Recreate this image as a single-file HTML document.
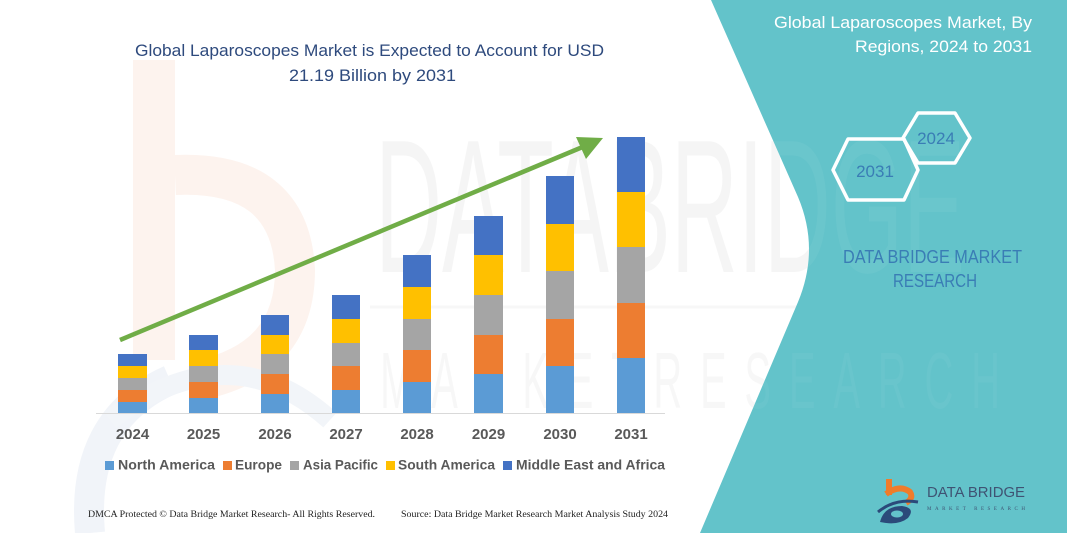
<!DOCTYPE html>
<html><head><meta charset="utf-8"><style>
html,body{margin:0;padding:0;background:#fff;}
svg{display:block;}
</style></head><body>
<svg width="1067" height="533" viewBox="0 0 1067 533" xmlns="http://www.w3.org/2000/svg">
<defs>
<clipPath id="teal"><path d="M711,0 L1067,0 L1067,533 L700,533 L798,302 Q820,249 798,197 Z"/></clipPath>
<clipPath id="white"><path d="M0,0 L711,0 L798,197 Q820,249 798,302 L700,533 L0,533 Z"/></clipPath>
</defs>
<rect width="1067" height="533" fill="#fff"/>
<!-- faint watermark b -->
<g>
<rect x="133" y="60" width="42" height="300" fill="#FDF3EE"/>
<path d="M175,175 Q290,170 295,270 Q295,360 200,380" fill="none" stroke="#FDF3EE" stroke-width="40"/>
<path d="M170,380 Q80,420 90,533" fill="none" stroke="#F1F4F9" stroke-width="30"/>
<path d="M110,420 Q230,330 330,420" fill="none" stroke="#F2F5F9" stroke-width="20"/>
</g>
<g clip-path="url(#white)">
<text x="375" y="272" font-family="Liberation Sans, sans-serif" font-size="190" fill="#000" fill-opacity="0.04" textLength="590" lengthAdjust="spacingAndGlyphs">DATABRIDGE</text>
<line x1="370" y1="307" x2="1000" y2="307" stroke="#000" stroke-opacity="0.03" stroke-width="3"/>
<text transform="scale(0.5,1)" x="760" y="408" font-family="Liberation Sans, sans-serif" font-size="80" fill="#000" fill-opacity="0.03" textLength="1240" lengthAdjust="spacing">MARKETRESEARCH</text>
</g>
<!-- teal panel -->
<path d="M711,0 L1067,0 L1067,533 L700,533 L798,302 Q820,249 798,197 Z" fill="#63C3CA"/>
<g clip-path="url(#teal)">
<text x="375" y="272" font-family="Liberation Sans, sans-serif" font-size="190" fill="#fff" fill-opacity="0.05" textLength="590" lengthAdjust="spacingAndGlyphs">DATABRIDGE</text>
<text transform="scale(0.5,1)" x="760" y="408" font-family="Liberation Sans, sans-serif" font-size="80" fill="#fff" fill-opacity="0.04" textLength="1240" lengthAdjust="spacing">MARKETRESEARCH</text>
</g>

<!-- title -->
<text x="135" y="56" font-family="Liberation Sans, sans-serif" font-size="17" fill="#2E4A7D" textLength="469" lengthAdjust="spacingAndGlyphs">Global Laparoscopes Market is Expected to Account for USD</text>
<text x="289" y="81" font-family="Liberation Sans, sans-serif" font-size="17" fill="#2E4A7D" textLength="167" lengthAdjust="spacingAndGlyphs">21.19 Billion by 2031</text>

<!-- axis -->
<line x1="96" y1="413.5" x2="665" y2="413.5" stroke="#D9D9D9" stroke-width="1"/>

<!-- bars -->
<g>
<rect x="118" y="402" width="29" height="11" fill="#5B9BD5"/>
<rect x="118" y="390" width="29" height="12" fill="#ED7D31"/>
<rect x="118" y="378" width="29" height="12" fill="#A5A5A5"/>
<rect x="118" y="366" width="29" height="12" fill="#FFC000"/>
<rect x="118" y="354" width="29" height="12" fill="#4472C4"/>

<rect x="189" y="398" width="29" height="15" fill="#5B9BD5"/>
<rect x="189" y="382" width="29" height="16" fill="#ED7D31"/>
<rect x="189" y="366" width="29" height="16" fill="#A5A5A5"/>
<rect x="189" y="350" width="29" height="16" fill="#FFC000"/>
<rect x="189" y="335" width="29" height="15" fill="#4472C4"/>

<rect x="261" y="394" width="28" height="19" fill="#5B9BD5"/>
<rect x="261" y="374" width="28" height="20" fill="#ED7D31"/>
<rect x="261" y="354" width="28" height="20" fill="#A5A5A5"/>
<rect x="261" y="335" width="28" height="19" fill="#FFC000"/>
<rect x="261" y="315" width="28" height="20" fill="#4472C4"/>

<rect x="332" y="390" width="28" height="23" fill="#5B9BD5"/>
<rect x="332" y="366" width="28" height="24" fill="#ED7D31"/>
<rect x="332" y="343" width="28" height="23" fill="#A5A5A5"/>
<rect x="332" y="319" width="28" height="24" fill="#FFC000"/>
<rect x="332" y="295" width="28" height="24" fill="#4472C4"/>

<rect x="403" y="382" width="28" height="31" fill="#5B9BD5"/>
<rect x="403" y="350" width="28" height="32" fill="#ED7D31"/>
<rect x="403" y="319" width="28" height="31" fill="#A5A5A5"/>
<rect x="403" y="287" width="28" height="32" fill="#FFC000"/>
<rect x="403" y="255" width="28" height="32" fill="#4472C4"/>

<rect x="474" y="374" width="29" height="39" fill="#5B9BD5"/>
<rect x="474" y="335" width="29" height="39" fill="#ED7D31"/>
<rect x="474" y="295" width="29" height="40" fill="#A5A5A5"/>
<rect x="474" y="255" width="29" height="40" fill="#FFC000"/>
<rect x="474" y="216" width="29" height="39" fill="#4472C4"/>

<rect x="546" y="366" width="28" height="47" fill="#5B9BD5"/>
<rect x="546" y="319" width="28" height="47" fill="#ED7D31"/>
<rect x="546" y="271" width="28" height="48" fill="#A5A5A5"/>
<rect x="546" y="224" width="28" height="47" fill="#FFC000"/>
<rect x="546" y="176" width="28" height="48" fill="#4472C4"/>

<rect x="617" y="358" width="28" height="55" fill="#5B9BD5"/>
<rect x="617" y="303" width="28" height="55" fill="#ED7D31"/>
<rect x="617" y="247" width="28" height="56" fill="#A5A5A5"/>
<rect x="617" y="192" width="28" height="55" fill="#FFC000"/>
<rect x="617" y="137" width="28" height="55" fill="#4472C4"/>
</g>

<!-- arrow -->
<line x1="120" y1="340" x2="585" y2="146" stroke="#70AD47" stroke-width="4.5"/>
<polygon points="603,138 586,159 576,137" fill="#70AD47"/>

<!-- year labels -->
<g font-family="Liberation Sans, sans-serif" font-size="15" font-weight="bold" fill="#595959" text-anchor="middle">
<text x="132.5" y="439">2024</text>
<text x="203.5" y="439">2025</text>
<text x="275" y="439">2026</text>
<text x="346" y="439">2027</text>
<text x="417" y="439">2028</text>
<text x="488.5" y="439">2029</text>
<text x="560" y="439">2030</text>
<text x="631" y="439">2031</text>
</g>

<!-- legend -->
<g font-family="Liberation Sans, sans-serif" font-size="14" font-weight="bold" fill="#595959">
<rect x="105" y="461" width="9" height="9" fill="#5B9BD5"/>
<text x="118" y="469.5" textLength="97" lengthAdjust="spacingAndGlyphs">North America</text>
<rect x="223" y="461" width="9" height="9" fill="#ED7D31"/>
<text x="235" y="469.5" textLength="47" lengthAdjust="spacingAndGlyphs">Europe</text>
<rect x="290" y="461" width="9" height="9" fill="#A5A5A5"/>
<text x="303" y="469.5" textLength="75" lengthAdjust="spacingAndGlyphs">Asia Pacific</text>
<rect x="386" y="461" width="9" height="9" fill="#FFC000"/>
<text x="398" y="469.5" textLength="97" lengthAdjust="spacingAndGlyphs">South America</text>
<rect x="503" y="461" width="9" height="9" fill="#4472C4"/>
<text x="516" y="469.5" textLength="149" lengthAdjust="spacingAndGlyphs">Middle East and Africa</text>
</g>

<!-- footer -->
<g font-family="Liberation Serif, serif" font-size="9.5" fill="#222">
<text x="88" y="517" textLength="287" lengthAdjust="spacingAndGlyphs">DMCA Protected © Data Bridge Market Research-  All Rights Reserved.</text>
<text x="401" y="517" textLength="267" lengthAdjust="spacingAndGlyphs">Source: Data Bridge Market Research  Market Analysis Study 2024</text>
</g>

<!-- right header -->
<g font-family="Liberation Sans, sans-serif" font-size="17" fill="#ffffff">
<text x="774" y="28" textLength="258" lengthAdjust="spacingAndGlyphs">Global Laparoscopes Market, By</text>
<text x="855" y="52" textLength="177" lengthAdjust="spacingAndGlyphs">Regions, 2024 to 2031</text>
</g>

<!-- hexagons -->
<polygon points="903,138 918,113 955,113 970,138 955,163 918,163" fill="none" stroke="#fff" stroke-width="3.5" stroke-linejoin="round"/>
<polygon points="833,170 848,139 904,139 918,170 904,200 848,200" fill="none" stroke="#fff" stroke-width="3.5" stroke-linejoin="round"/>
<g font-family="Liberation Sans, sans-serif" font-size="17" fill="#3A7DB5" text-anchor="middle">
<text x="936" y="144">2024</text>
<text x="875" y="177">2031</text>
</g>

<!-- DBMR text -->
<g font-family="Liberation Sans, sans-serif" font-size="18.5" fill="#3A7DB5">
<text x="843" y="263" textLength="179" lengthAdjust="spacingAndGlyphs">DATA BRIDGE MARKET</text>
<text x="893" y="287" textLength="84" lengthAdjust="spacingAndGlyphs">RESEARCH</text>
</g>

<!-- logo -->
<g>
<rect x="886" y="479" width="6" height="16" fill="#F07C2A"/>
<path d="M886,494 Q900,484 910,492 Q914,498 906,503" fill="none" stroke="#F07C2A" stroke-width="6"/>
<path d="M878,512 Q895,498 918,502" fill="none" stroke="#2B4A7A" stroke-width="3"/>
<path d="M880,522 Q884,506 902,506 Q916,508 908,518 Q898,526 880,522 Z" fill="#2B4A7A"/>
<ellipse cx="897" cy="514" rx="6" ry="3.5" fill="#63C3CA"/>
<text x="927" y="497" font-family="Liberation Sans, sans-serif" font-size="15" fill="#3F5373" textLength="98" lengthAdjust="spacingAndGlyphs">DATA BRIDGE</text>
<text x="927" y="510" font-family="Liberation Serif, serif" font-size="5" fill="#3F5373" textLength="98" lengthAdjust="spacing">MARKET   RESEARCH</text>
</g>
</svg>
</body></html>
